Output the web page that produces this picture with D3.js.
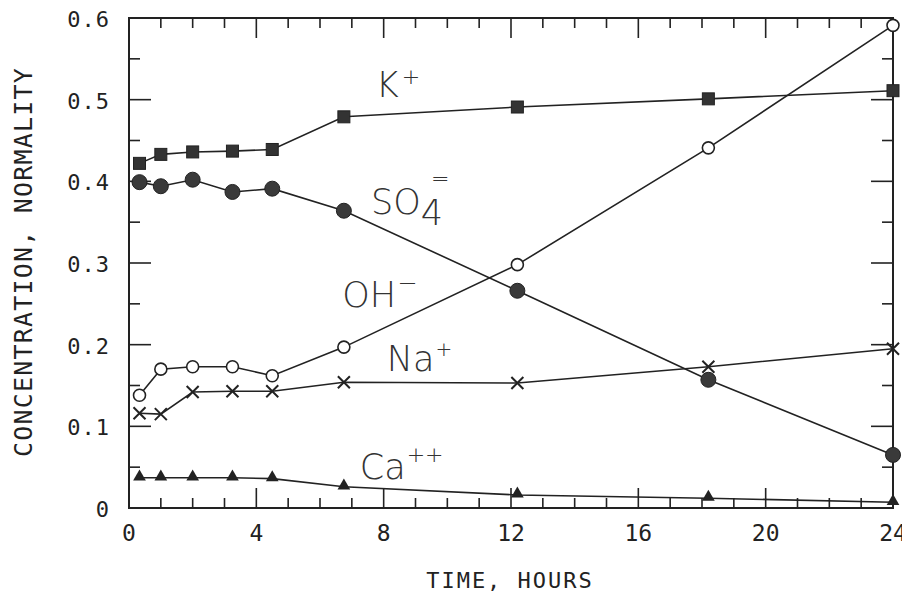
<!DOCTYPE html>
<html>
<head>
<meta charset="utf-8">
<script src="https://cdn.jsdelivr.net/npm/d3@7"></script>
<style>
  body { margin: 0; background: #fff; }
  svg { display: block; }
</style>
</head>
<body>
<div class="chart"></div>
<script>
// sampling times (hours)
const times = [0.33, 1, 2, 3.25, 4.5, 6.75, 12.2, 18.2, 24]
// concentrations, normality
const kPlus = [0.422, 0.433, 0.436, 0.437, 0.439, 0.479, 0.491, 0.501, 0.511]
const so4 = [0.399, 0.394, 0.402, 0.387, 0.391, 0.364, 0.266, 0.157, 0.065]
const ohMinus = [0.138, 0.170, 0.173, 0.173, 0.162, 0.197, 0.298, 0.441, 0.591]
const naPlus = [0.116, 0.115, 0.142, 0.143, 0.143, 0.154, 0.153, 0.173, 0.195]
const caPlus = [0.037, 0.037, 0.037, 0.037, 0.036, 0.026, 0.016, 0.012, 0.007]
const xTicks = [0, 4, 8, 12, 16, 20, 24]
const yTicks = [0, 0.1, 0.2, 0.3, 0.4, 0.5, 0.6]

const width = 902, height = 593
const margin = { left: 129, right: 9, top: 18, bottom: 85 }
const ink = "#222"
const mono = "'DejaVu Sans Mono', 'Liberation Mono', monospace"
const sans = "'DejaVu Sans', 'Liberation Sans', sans-serif"

let svg = d3.select(".chart")
    .append("svg")
    .attr("width", width)
    .attr("height", height)

let x = d3.scaleLinear().domain([0, 24]).range([margin.left, width - margin.right])
let y = d3.scaleLinear().domain([0, 0.6]).range([height - margin.bottom, margin.top])

// frame
svg.append("rect")
    .attr("x", x(0)).attr("y", y(0.6))
    .attr("width", x(24) - x(0)).attr("height", y(0) - y(0.6))
    .attr("fill", "none").attr("stroke", ink).attr("stroke-width", 2)

// inward ticks on all four sides
let xMinor = d3.range(0, 25, 1)
let yMinor = d3.range(0, 0.6001, 0.05)
let tickG = svg.append("g").attr("stroke", ink).attr("stroke-width", 1.6)
xMinor.forEach(t => {
    let len = t % 4 === 0 ? 20 : 10
    tickG.append("line").attr("x1", x(t)).attr("x2", x(t)).attr("y1", y(0)).attr("y2", y(0) - len)
    tickG.append("line").attr("x1", x(t)).attr("x2", x(t)).attr("y1", y(0.6)).attr("y2", y(0.6) + len)
})
yMinor.forEach((v, i) => {
    let len = i % 2 === 0 ? 22 : 11
    tickG.append("line").attr("x1", x(0)).attr("x2", x(0) + len).attr("y1", y(v)).attr("y2", y(v))
    tickG.append("line").attr("x1", x(24)).attr("x2", x(24) - len).attr("y1", y(v)).attr("y2", y(v))
})

// tick labels
svg.append("g").selectAll("text")
    .data(yTicks).enter().append("text")
    .attr("x", x(0) - 19)
    .attr("y", d => y(d) + 9)
    .attr("text-anchor", "end")
    .attr("font-family", mono).attr("font-size", 22)
    .attr("letter-spacing", 1)
    .attr("fill", ink)
    .text(d => d === 0 ? "0" : d3.format(".1f")(d))

svg.append("g").selectAll("text")
    .data(xTicks).enter().append("text")
    .attr("x", d => x(d))
    .attr("y", y(0) + 33)
    .attr("text-anchor", "middle")
    .attr("font-family", mono).attr("font-size", 23)
    .attr("fill", ink)
    .text(d => d)

// axis titles
svg.append("text")
    .attr("x", 510).attr("y", 588)
    .attr("text-anchor", "middle")
    .attr("font-family", mono).attr("font-size", 22)
    .attr("letter-spacing", 2)
    .attr("fill", ink)
    .text("TIME, HOURS")
svg.append("text")
    .attr("transform", "translate(32,262) rotate(-90)")
    .attr("text-anchor", "middle")
    .attr("font-family", mono).attr("font-size", 25)
    .attr("letter-spacing", 1.2)
    .attr("fill", ink)
    .text("CONCENTRATION, NORMALITY")

// series
let series = [
    { name: "K", values: kPlus, marker: "square" },
    { name: "SO4", values: so4, marker: "dot" },
    { name: "OH", values: ohMinus, marker: "ring" },
    { name: "Na", values: naPlus, marker: "cross" },
    { name: "Ca", values: caPlus, marker: "triangle" }
]
let line = d3.line().x(d => x(d[0])).y(d => y(d[1]))

series.forEach(s => {
    let pts = times.map((t, i) => [t, s.values[i]])
    let g = svg.append("g")
    g.append("path")
        .attr("d", line(pts))
        .attr("fill", "none").attr("stroke", ink).attr("stroke-width", 1.6)
    pts.forEach(p => {
        let cx = x(p[0]), cy = y(p[1])
        if (s.marker === "square") {
            g.append("rect").attr("x", cx - 6).attr("y", cy - 6).attr("width", 12).attr("height", 12)
                .attr("fill", "#333").attr("stroke", ink)
        } else if (s.marker === "dot") {
            g.append("circle").attr("cx", cx).attr("cy", cy).attr("r", 7.5)
                .attr("fill", "#3a3a3a").attr("stroke", ink)
        } else if (s.marker === "ring") {
            g.append("circle").attr("cx", cx).attr("cy", cy).attr("r", 6)
                .attr("fill", "#fff").attr("stroke", ink).attr("stroke-width", 1.6)
        } else if (s.marker === "cross") {
            g.append("path").attr("d", `M${cx - 6},${cy - 6}L${cx + 6},${cy + 6}M${cx - 6},${cy + 6}L${cx + 6},${cy - 6}`)
                .attr("stroke", ink).attr("stroke-width", 2)
        } else {
            g.append("path").attr("d", d3.symbol(d3.symbolTriangle, 70)())
                .attr("transform", `translate(${cx},${cy - 1})`)
                .attr("fill", ink)
        }
    })
})

// species labels
function label(px, py, main) {
    return svg.append("text")
        .attr("x", px).attr("y", py)
        .attr("font-family", sans).attr("font-size", 35)
        .attr("font-weight", 200)
        .attr("fill", "#333")
        .text(main)
}
label(x(7.75), 97, "K").append("tspan").attr("font-size", 22).attr("dx", 3).attr("dy", -13).text("+")

let so = label(x(7.6), 214, "SO")
so.append("tspan").attr("dy", 11).text("4")
so.append("tspan").attr("font-size", 22).attr("dx", -12).attr("dy", -39).text("=")

label(x(6.7), 307, "OH").append("tspan").attr("font-size", 24).attr("dx", 1).attr("dy", -16).text("−")
label(x(8.1), 371, "Na").append("tspan").attr("font-size", 20).attr("dx", 1).attr("dy", -15).text("+")
label(x(7.25), 479, "Ca").append("tspan").attr("font-size", 22).attr("dx", 1).attr("dy", -17).text("++")
</script>
</body>
</html>
